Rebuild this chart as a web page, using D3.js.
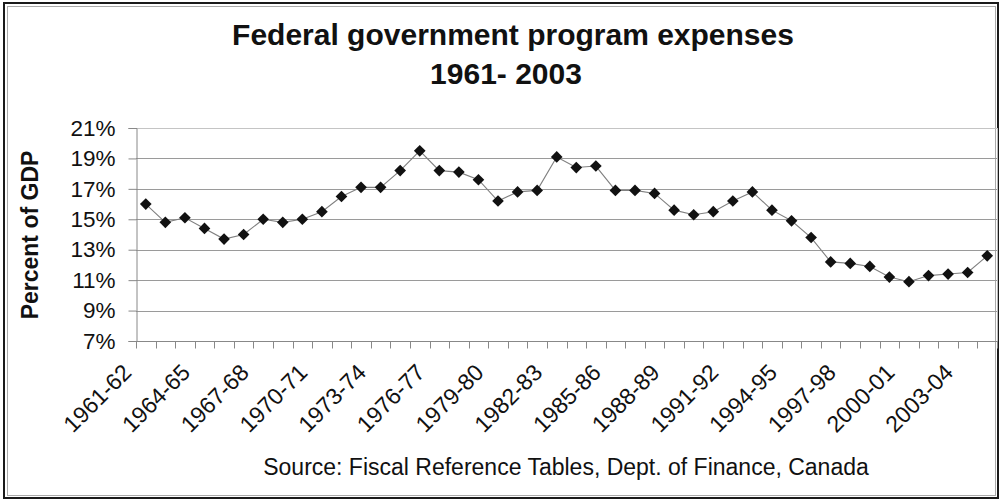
<!DOCTYPE html>
<html>
<head>
<meta charset="utf-8">
<script src="https://cdn.jsdelivr.net/npm/d3@7"></script>
<style>
  html, body { margin: 0; padding: 0; background: #fff; }
  svg { display: block; font-family: Arial, "Liberation Sans", sans-serif; }
</style>
</head>
<body>
<svg id="chart" width="1003" height="502"></svg>
<script>
// Fiscal years (April–March), 1961-62 to 2004-05
const fiscalYears = [
  "1961-62","1962-63","1963-64","1964-65","1965-66","1966-67","1967-68","1968-69",
  "1969-70","1970-71","1971-72","1972-73","1973-74","1974-75","1975-76","1976-77",
  "1977-78","1978-79","1979-80","1980-81","1981-82","1982-83","1983-84","1984-85",
  "1985-86","1986-87","1987-88","1988-89","1989-90","1990-91","1991-92","1992-93",
  "1993-94","1994-95","1995-96","1996-97","1997-98","1998-99","1999-00","2000-01",
  "2001-02","2002-03","2003-04","2004-05"
];

// Program expenses as percent of GDP
const programExpenses = [
  16.0, 14.8, 15.1, 14.4, 13.7, 14.0, 15.0, 14.8,
  15.0, 15.5, 16.5, 17.1, 17.1, 18.2, 19.5, 18.2,
  18.1, 17.6, 16.2, 16.8, 16.9, 19.1, 18.4, 18.5,
  16.9, 16.9, 16.7, 15.6, 15.3, 15.5, 16.2, 16.8,
  15.6, 14.9, 13.8, 12.2, 12.1, 11.9, 11.2, 10.9,
  11.3, 11.4, 11.5, 12.6
];

// Axis ticks
const yTicks = [7, 9, 11, 13, 15, 17, 19, 21];
const xLabelEvery = 3;

const svg = d3.select("#chart");
const plot = { left: 136, right: 997, top: 128, bottom: 341 };

// Outer frame: dark rule with a light inner rule
svg.append("rect").attr("x", 4).attr("y", 3).attr("width", 994).attr("height", 495)
  .attr("fill", "#fff").attr("stroke", "#1a1a1a").attr("stroke-width", 2);
svg.append("rect").attr("x", 7.5).attr("y", 6.5).attr("width", 988).attr("height", 489)
  .attr("fill", "none").attr("stroke", "#aaa").attr("stroke-width", 1);

const x = d3.scaleBand().domain(fiscalYears).range([plot.left, plot.right]).padding(0);
const y = d3.scaleLinear().domain([7, 21]).range([plot.bottom, plot.top]);

// Title
const title = svg.append("text").attr("text-anchor", "middle")
  .attr("font-weight", "bold").attr("font-size", 30).attr("fill", "#111");
title.append("tspan").attr("x", 513).attr("y", 45).text("Federal government program expenses");
title.append("tspan").attr("x", 506).attr("y", 84).text("1961- 2003");

// Horizontal gridlines
svg.append("g").selectAll("line").data(yTicks.filter(d => d > 7)).join("line")
  .attr("x1", plot.left).attr("x2", plot.right)
  .attr("y1", d => Math.round(y(d)) + 0.5).attr("y2", d => Math.round(y(d)) + 0.5)
  .attr("stroke", d => d === 21 ? "#c4c4c4" : "#9a9a9a").attr("stroke-width", 1);

// Right edge of the plot area
svg.append("line").attr("x1", plot.right + 0.5).attr("x2", plot.right + 0.5)
  .attr("y1", plot.top).attr("y2", plot.bottom)
  .attr("stroke", "#bbb");

// Y axis
const yAxis = d3.axisLeft(y).tickValues(yTicks).tickFormat(d => d + "%")
  .tickSize(8).tickPadding(13);
const gy = svg.append("g").attr("transform", `translate(${plot.left + 0.5},0)`).call(yAxis);
gy.select(".domain").attr("stroke", "#888");
gy.selectAll(".tick line").attr("stroke", "#888");
gy.selectAll(".tick text").attr("font-size", 22.5).attr("fill", "#111")
  .attr("font-family", "Arial, 'Liberation Sans', sans-serif");

// X axis: tick marks sit between categories
const gx = svg.append("g").attr("transform", `translate(0,${plot.bottom + 0.5})`);
gx.append("line").attr("x1", plot.left).attr("x2", plot.right + 1)
  .attr("stroke", "#888");
const boundaries = fiscalYears.map(d => x(d)).concat([x(fiscalYears[fiscalYears.length - 1]) + x.bandwidth()]);
gx.selectAll("line.tick").data(boundaries).join("line").attr("class", "tick")
  .attr("x1", d => Math.round(d) + 0.5).attr("x2", d => Math.round(d) + 0.5)
  .attr("y1", 0).attr("y2", 7).attr("stroke", "#888");

// Rotated category labels, every third year
const labelled = fiscalYears.filter((d, i) => i % xLabelEvery === 0);
svg.append("g").selectAll("text").data(labelled).join("text")
  .attr("transform", d => `translate(${x(d) + x.bandwidth() / 2 - 13},${plot.bottom + 33}) rotate(-45)`)
  .attr("text-anchor", "end").attr("font-size", 23).attr("fill", "#111")
  .text(d => d);

// Y axis title
svg.append("text")
  .attr("transform", `translate(38,235) rotate(-90)`)
  .attr("text-anchor", "middle").attr("font-weight", "bold").attr("font-size", 23)
  .attr("fill", "#111").text("Percent of GDP");

// Series line and diamond markers
const line = d3.line().x((d, i) => x(fiscalYears[i]) + x.bandwidth() / 2).y(d => y(d));
svg.append("path").datum(programExpenses).attr("d", line)
  .attr("fill", "none").attr("stroke", "#808080").attr("stroke-width", 1.1);

const diamond = d3.symbol().type(d3.symbolSquare).size(68);
svg.append("g").selectAll("path").data(programExpenses).join("path")
  .attr("d", diamond)
  .attr("transform", (d, i) => `translate(${x(fiscalYears[i]) + x.bandwidth() / 2},${y(d)}) rotate(45)`)
  .attr("fill", "#111");

// Source note
svg.append("text").attr("x", 566).attr("y", 475).attr("text-anchor", "middle")
  .attr("font-size", 23).attr("fill", "#111")
  .text("Source: Fiscal Reference Tables, Dept. of Finance, Canada");
</script>
</body>
</html>
